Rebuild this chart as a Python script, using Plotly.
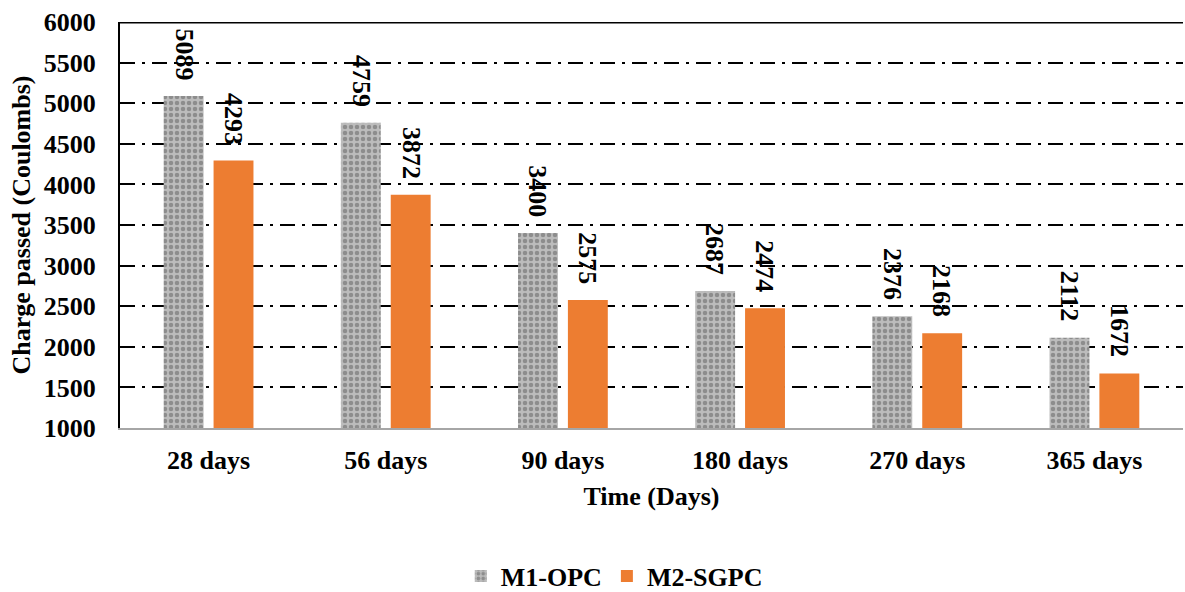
import plotly.graph_objects as go

categories = ["28 days", "56 days", "90 days", "180 days", "270 days", "365 days"]
m1_opc = [5089, 4759, 3400, 2687, 2376, 2112]
m2_sgpc = [4293, 3872, 2575, 2474, 2168, 1672]
y_ticks = [1000, 1500, 2000, 2500, 3000, 3500, 4000, 4500, 5000, 5500, 6000]

FONT = "Liberation Serif"
FS = 26

fig = go.Figure()
fig.add_trace(go.Bar(
    x=categories, y=m1_opc, name="M1-OPC",
    marker=dict(color="#b0b0b0",
                pattern=dict(shape=".", fgcolor="#5e5e5e", bgcolor="#bcbcbc", size=6, solidity=0.45),
                line=dict(width=0)),
))
fig.add_trace(go.Bar(
    x=categories, y=m2_sgpc, name="M2-SGPC",
    marker=dict(color="#ed7d31", line=dict(width=0)),
))

# rotated value labels above bars
for series, shift in ((m1_opc, -25), (m2_sgpc, 25)):
    for c, v in zip(categories, series):
        fig.add_annotation(x=c, y=v, text=f"<b>{v}</b>", textangle=90, showarrow=False,
                           xshift=shift, yshift=14, yanchor="bottom", xanchor="center",
                           font=dict(family=FONT, size=FS, color="black"))

fig.add_shape(type="line", xref="paper", yref="y", x0=0, x1=1, y0=6000, y1=6000,
              line=dict(color="black", width=3))

fig.update_layout(
    width=1185, height=592,
    margin=dict(l=120, r=2, t=22, b=164, autoexpand=False),
    plot_bgcolor="white", paper_bgcolor="white",
    barmode="group", bargap=0.437, bargroupgap=0.2,
    font=dict(family=FONT, color="black"),
    showlegend=True,
    legend=dict(orientation="h", x=0.465, xanchor="center", y=-0.365, yanchor="middle",
                font=dict(family=FONT, size=FS, color="black", weight="bold"),
                itemwidth=30, traceorder="normal"),
    xaxis=dict(
        showline=True, linecolor="#a6a6a6", linewidth=2, automargin=False,
        ticks="", ticklabelstandoff=8,
        tickfont=dict(family=FONT, size=FS, color="black", weight="bold"),
        title=dict(text="Time (Days)", font=dict(family=FONT, size=FS, color="black", weight="bold"), standoff=13),
    ),
    yaxis=dict(
        range=[1000, 6000], tickvals=y_ticks, automargin=False,
        showline=True, linecolor="black", linewidth=2,
        showgrid=True, gridcolor="black", gridwidth=2, griddash="15px,7px,3px,7px",
        ticks="", ticklabelstandoff=17,
        tickfont=dict(family=FONT, size=FS, color="black", weight="bold"),
        title=dict(text="Charge passed (Coulombs)", font=dict(family=FONT, size=FS, color="black", weight="bold"), standoff=6),
        zeroline=False,
    ),
)

fig.write_html("out.html")
